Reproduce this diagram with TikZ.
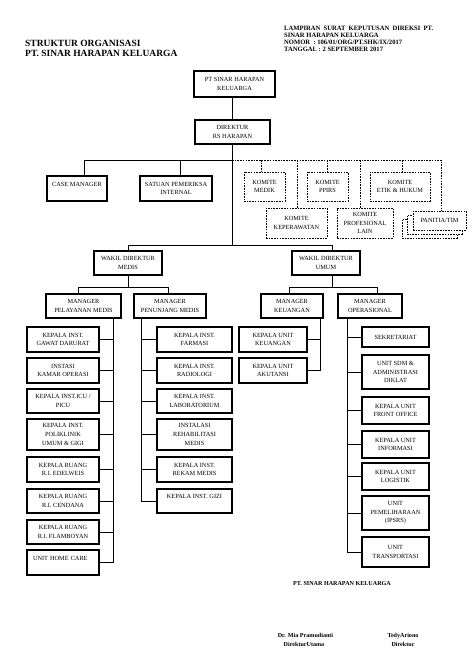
\documentclass[tikz,border=0pt]{standalone}
\usepackage{fontspec}
\setmainfont{Liberation Serif}
\newcommand\orgbox[7]{\node[#1,minimum width={#5-#3},minimum height={#6-#4}] (#2) at ({(#3+#5)/2},{(#4+#6)/2}) {#7};}
\newcommand\upr[2]{\raisebox{#1}[0pt][0pt]{#2}}
\begin{document}
\begin{tikzpicture}[x=1pt,y=-1pt,
  bx/.style={draw,line width=1.1pt,inner sep=0pt,align=center,fill=white,font=\fontsize{6.3}{8.6}\selectfont},
  dbx/.style={bx,line width=1pt,dash pattern=on 1.6pt off 1.1pt},
  ln/.style={line width=0.9pt},
  dln/.style={line width=0.9pt,dash pattern=on 1.6pt off 1.1pt},
  ttl/.style={anchor=base west,inner sep=0pt,font=\bfseries\fontsize{9.5}{11}\selectfont},
  hdr/.style={anchor=base west,inner sep=0pt,font=\bfseries\fontsize{6.6}{7}\selectfont},
  sig/.style={anchor=base,inner sep=0pt,font=\bfseries\fontsize{6.1}{7}\selectfont}]
\useasboundingbox[fill=white] (0,0) rectangle (474,670);

% titles
\node[ttl] (t1) at (25,46.5) {STRUKTUR ORGANISASI};
\node[ttl] (t2) at (25,56.5) {PT. SINAR HARAPAN KELUARGA};
\node[hdr] (h1l) at (284,30.5) {\makebox[149pt][s]{LAMPIRAN SURAT KEPUTUSAN DIREKSI PT.}};
\node[hdr] (h2l) at (284,37.3) {SINAR HARAPAN KELUARGA};
\node[hdr] (h3l) at (284,44.1) {NOMOR \ : 106/01/ORG/PT.SHK/IX/2017};
\node[hdr] (h4l) at (284,51) {TANGGAL : 2 SEPTEMBER 2017};

% top
\orgbox{bx}{top}{194}{71}{275}{97}{PT SINAR HARAPAN\\KELUARGA}
\orgbox{bx}{dir}{195}{120}{270}{144}{DIREKTUR\\RS HARAPAN}
\orgbox{bx}{case}{47}{176}{107}{201}{\upr{2.5pt}{CASE MANAGER}}
\orgbox{bx}{spi}{140}{176}{212}{201}{SATUAN PEMERIKSA\\INTERNAL}

% committees
\orgbox{dbx}{kmed}{244}{172}{285}{201}{KOMITE\\MEDIK}
\orgbox{dbx}{kppi}{307}{172}{348}{201}{KOMITE\\PPIRS}
\orgbox{dbx}{ketik}{370}{172}{430}{201}{KOMITE\\ETIK \& HUKUM}
\orgbox{dbx}{kkep}{266}{208}{327}{238}{KOMITE\\KEPERAWATAN}
\orgbox{dbx}{kpro}{337}{208}{393}{238}{KOMITE\\PROFESIONAL\\LAIN}
\orgbox{dbx}{pan3}{402}{219}{457}{238}{}
\orgbox{dbx}{pan2}{407}{215}{462}{234}{}
\orgbox{dbx}{pan}{413}{211}{466}{230}{PANITIA/TIM}

% wakil
\orgbox{bx}{wdm}{94}{251}{162}{275}{WAKIL DIREKTUR\\MEDIS}
\orgbox{bx}{wdu}{292}{251}{360}{275}{WAKIL DIREKTUR\\UMUM}

% managers
\orgbox{bx}{mpm}{46}{294}{121}{318}{MANAGER\\PELAYANAN MEDIS}
\orgbox{bx}{mpn}{134}{294}{206}{318}{MANAGER\\PENUNJANG MEDIS}
\orgbox{bx}{mk}{261}{294}{323}{318}{MANAGER\\KEUANGAN}
\orgbox{bx}{mo}{338}{294}{402}{318}{MANAGER\\OPERASIONAL}

% column 1
\orgbox{bx}{gd}{27}{327}{99}{352}{KEPALA INST.\\GAWAT DARURAT}
\orgbox{bx}{ko}{27}{358}{99}{383}{INSTASI\\KAMAR OPERASI}
\orgbox{bx}{icu}{27}{389}{99}{413}{KEPALA INST.ICU /\\PICU}
\orgbox{bx}{poli}{27}{419}{99}{450}{KEPALA INST.\\POLIKLINIK\\UMUM \& GIGI}
\orgbox{bx}{edel}{27}{457}{99}{482}{KEPALA RUANG\\R.I. EDELWEIS}
\orgbox{bx}{cend}{27}{489}{99}{513}{KEPALA RUANG\\R.I. CENDANA}
\orgbox{bx}{flam}{27}{520}{99}{544}{KEPALA RUANG\\R.I. FLAMBOYAN}
\orgbox{bx,align=left,text width=60pt,inner xsep=6pt}{hc}{27}{550}{99}{575}{\upr{2.5pt}{UNIT HOME CARE}}

% column 2
\orgbox{bx}{far}{157}{327}{232}{352}{KEPALA INST.\\FARMASI}
\orgbox{bx}{rad}{157}{358}{232}{383}{KEPALA INST.\\RADIOLOGI}
\orgbox{bx}{lab}{157}{389}{232}{413}{KEPALA INST.\\LABORATORIUM}
\orgbox{bx}{reh}{157}{419}{232}{450}{INSTALASI\\REHABILITASI\\MEDIS}
\orgbox{bx}{rm}{157}{457}{232}{482}{KEPALA INST.\\REKAM MEDIS}
\orgbox{bx}{gizi}{157}{489}{232}{513}{\upr{2.5pt}{KEPALA INST. GIZI}}

% column 3
\orgbox{bx}{keu}{239}{327}{307}{352}{KEPALA UNIT\\KEUANGAN}
\orgbox{bx}{aku}{239}{358}{307}{383}{KEPALA UNIT\\AKUTANSI}

% column 4
\orgbox{bx}{sek}{362}{327}{429}{347}{SEKRETARIAT}
\orgbox{bx}{sdm}{362}{355}{429}{389}{UNIT SDM \&\\ADMINISTRASI\\DIKLAT}
\orgbox{bx}{fo}{362}{397}{429}{424}{KEPALA UNIT\\FRONT OFFICE}
\orgbox{bx}{info}{362}{431}{429}{458}{KEPALA UNIT\\INFORMASI}
\orgbox{bx}{logi}{362}{463}{429}{490}{KEPALA UNIT\\LOGISTIK}
\orgbox{bx}{ipsrs}{362}{496}{429}{530}{UNIT\\PEMELIHARAAN\\(IPSRS)}
\orgbox{bx}{trans}{362}{537}{429}{567}{UNIT\\TRANSPORTASI}

% footer
\node[sig] (f1) at (342,585.2) {PT. SINAR HARAPAN KELUARGA};
\node[sig] (s1a) at (305.5,637.2) {Dr. Mia Pramudianti};
\node[sig] (s1b) at (304,646.2) {DirekturUtama};
\node[sig] (s2a) at (403,637.2) {TedyAriono};
\node[sig] (s2b) at (403,646.2) {Direktur};

% connectors
\coordinate (hA) at (232,160);
\coordinate (hub) at (232,245);
\coordinate (cmx) at (84,160);
\coordinate (spix) at (180,160);
\coordinate (dend) at (441,160);
\coordinate (c1) at (261,160);
\coordinate (c2) at (327,160);
\coordinate (c3) at (402,160);
\coordinate (c4) at (297,160);
\coordinate (c5) at (360,160);
\draw[ln] (hA |- top.south) -- (hA |- dir.north);
\draw[ln] (hA |- dir.south) -- (hub);
\draw[ln] (cmx) -- (hA);
\draw[ln] (cmx) -- (cmx |- case.north);
\draw[ln] (spix) -- (spix |- spi.north);
\draw[dln] (hA) -- (dend) -- (dend |- pan.north);
\draw[dln] (c1) -- (c1 |- kmed.north);
\draw[dln] (c2) -- (c2 |- kppi.north);
\draw[dln] (c3) -- (c3 |- ketik.north);
\draw[dln] (c4) -- (c4 |- kkep.north);
\draw[dln] (c5) -- (c5 |- kpro.north);

\coordinate (wmx) at (128,245);
\coordinate (wux) at (332,245);
\draw[ln] (wmx) -- (wux);
\draw[ln] (wmx) -- (wmx |- wdm.north);
\draw[ln] (wux) -- (wux |- wdu.north);

\coordinate (m1) at (128,287);
\coordinate (m2) at (332,287);
\coordinate (mpmx) at (78,287);
\coordinate (mpnx) at (168,287);
\coordinate (mkx) at (289,287);
\coordinate (mox) at (377,287);
\draw[ln] (m1 |- wdm.south) -- (m1);
\draw[ln] (m2 |- wdu.south) -- (m2);
\draw[ln] (mpmx) -- (mpnx);
\draw[ln] (mkx) -- (mox);
\draw[ln] (mpmx) -- (mpmx |- mpm.north);
\draw[ln] (mpnx) -- (mpnx |- mpn.north);
\draw[ln] (mkx) -- (mkx |- mk.north);
\draw[ln] (mox) -- (mox |- mo.north);

\coordinate (s1) at (113,0);
\coordinate (s2) at (141,0);
\coordinate (s3) at (320,0);
\coordinate (s4) at (347,0);
\draw[ln] (s1 |- mpm.south) -- (s1 |- hc.east);
\foreach \n in {gd,ko,icu,poli,edel,cend,flam,hc} \draw[ln] (\n.east) -- (\n.east -| s1);
\draw[ln] (s2 |- mpn.south) -- (s2 |- gizi.west);
\foreach \n in {far,rad,lab,reh,rm,gizi} \draw[ln] (\n.west) -- (\n.west -| s2);
\draw[ln] (s3 |- mk.south) -- (s3 |- aku.east);
\foreach \n in {keu,aku} \draw[ln] (\n.east) -- (\n.east -| s3);
\draw[ln] (s4 |- mo.south) -- (s4 |- trans.west);
\foreach \n in {sek,sdm,fo,info,logi,ipsrs,trans} \draw[ln] (\n.west) -- (\n.west -| s4);
\end{tikzpicture}
\end{document}
